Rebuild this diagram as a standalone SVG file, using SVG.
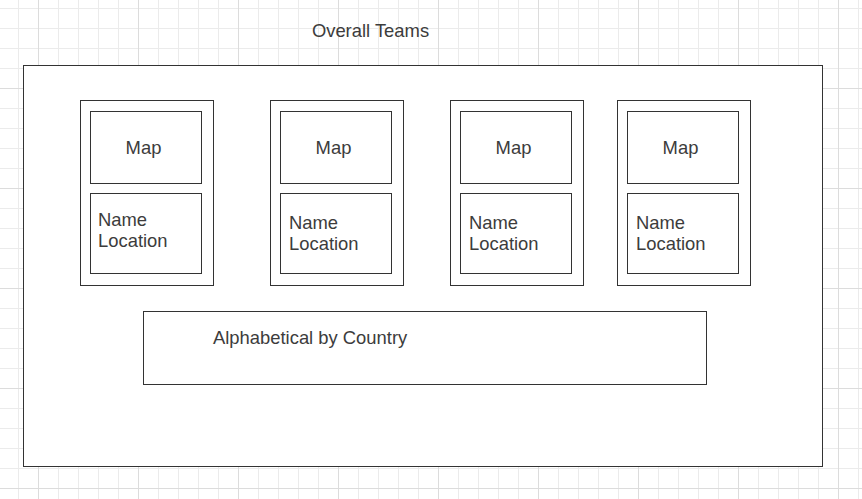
<svg xmlns="http://www.w3.org/2000/svg" width="862" height="499" viewBox="0 0 862 499">
  <defs>
    <pattern id="gridS" patternUnits="userSpaceOnUse" x="18" y="8" width="20" height="20">
      <path d="M0.5 0V20M0 0.5H20" fill="none" stroke="#ebebeb" stroke-width="1"/>
    </pattern>
    <pattern id="gridL" patternUnits="userSpaceOnUse" x="38" y="88" width="100" height="100">
      <path d="M0.5 0V100M0 0.5H100" fill="none" stroke="#dcdcdc" stroke-width="1"/>
    </pattern>
  </defs>
  <style>
    .box { fill: #ffffff; stroke: #333333; stroke-width: 1; }
    .t { font-family: "Liberation Sans", Arial, sans-serif; font-size: 18.4px; fill: #3c3c3c; }
    .c { text-anchor: middle; }
  </style>
  <rect width="862" height="499" fill="#ffffff"/>
  <rect width="862" height="499" fill="url(#gridS)"/>
  <rect width="862" height="499" fill="url(#gridL)"/>

  <g id="title">
    <text class="t c" x="370.5" y="37">Overall Teams</text>
  </g>

  <g id="overall">
    <rect class="box" x="23.5" y="65.5" width="799" height="401"/>
  </g>

  <g id="team1">
    <rect class="box" x="80.5" y="100.5" width="133" height="185"/>
    <g id="map1">
      <rect class="box" x="90.5" y="111.5" width="111" height="72"/>
      <text class="t c" x="143.5" y="153.5">Map</text>
    </g>
    <g id="name1">
      <rect class="box" x="90.5" y="193.5" width="111" height="80"/>
      <text class="t" x="98" y="225.5">Name</text>
      <text class="t" x="98" y="247">Location</text>
    </g>
  </g>

  <g id="team2">
    <rect class="box" x="270.5" y="100.5" width="133" height="185"/>
    <g id="map2">
      <rect class="box" x="280.5" y="111.5" width="111" height="72"/>
      <text class="t c" x="333.5" y="153.5">Map</text>
    </g>
    <g id="name2">
      <rect class="box" x="280.5" y="193.5" width="111" height="80"/>
      <text class="t" x="289" y="228.5">Name</text>
      <text class="t" x="289" y="250">Location</text>
    </g>
  </g>

  <g id="team3">
    <rect class="box" x="450.5" y="100.5" width="133" height="185"/>
    <g id="map3">
      <rect class="box" x="460.5" y="111.5" width="111" height="72"/>
      <text class="t c" x="513.5" y="153.5">Map</text>
    </g>
    <g id="name3">
      <rect class="box" x="460.5" y="193.5" width="111" height="80"/>
      <text class="t" x="469" y="228.5">Name</text>
      <text class="t" x="469" y="250">Location</text>
    </g>
  </g>

  <g id="team4">
    <rect class="box" x="617.5" y="100.5" width="133" height="185"/>
    <g id="map4">
      <rect class="box" x="627.5" y="111.5" width="111" height="72"/>
      <text class="t c" x="680.5" y="153.5">Map</text>
    </g>
    <g id="name4">
      <rect class="box" x="627.5" y="193.5" width="111" height="80"/>
      <text class="t" x="636" y="228.5">Name</text>
      <text class="t" x="636" y="250">Location</text>
    </g>
  </g>

  <g id="alphabetical">
    <rect class="box" x="143.5" y="311.5" width="563" height="73"/>
    <text class="t" x="213" y="343.5">Alphabetical by Country</text>
  </g>

  <g id="connectors"></g>
</svg>
